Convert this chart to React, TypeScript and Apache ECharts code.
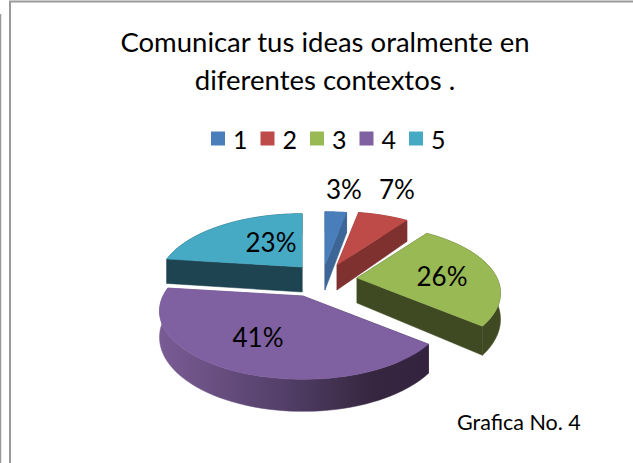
import React, { useEffect, useRef } from "react";
import * as echarts from "echarts";

const categories = ["1", "2", "3", "4", "5"];
const percents = [3, 7, 26, 41, 23];
const labelTexts = ["3%", "7%", "26%", "41%", "23%"];
const titleText = "Comunicar tus ideas oralmente en\ndiferentes contextos .";
const captionText = "Grafica No. 4";

const topColors = ["#4A7EBB", "#BE4B48", "#98B954", "#7F60A0", "#46AAC5"];
const sideColors = ["#3D6596", "#7F3130", "#404A22", "#33233F", "#1F4451"];
// per-slice exploded apex, label position, paint order
const apexes = [[325, 265], [337, 265], [357, 278], [303, 296], [302, 267]];
const labelPos = [[344, 189], [397, 189], [442, 276], [258, 337], [271, 242]];
const zOrder = [1, 2, 3, 5, 4];

const FONT = "Lato, 'Open Sans', sans-serif";
const R0 = 140;
const RY0 = 65;
const P = 0.22;
const DEPTH = 25;

const total = percents.reduce((a, b) => a + b, 0);

function project(apex: number[], deg: number, r: number) {
  const t = (deg * Math.PI) / 180;
  const u = Math.sin(t) * r;
  const v = -Math.cos(t) * r;
  const s = 1 / (1 - P * v);
  return { x: apex[0] + R0 * u * s, y: apex[1] + RY0 * v * s, s };
}

function renderSlice(i: number) {
  return (_params: any, api: any) => {
    const value = api.value(0);
    const startPct = percents.slice(0, i).reduce((a, b) => a + b, 0);
    const a0 = (startPct / total) * 360;
    const a1 = ((startPct + value) / total) * 360;
    const apex = apexes[i];
    const steps = 60;
    const rim: { x: number; y: number; s: number }[] = [];
    for (let k = 0; k <= steps; k++) rim.push(project(apex, a0 + ((a1 - a0) * k) / steps, 1));
    const centre = { x: apex[0], y: apex[1], s: 1 };
    const low = (p: { x: number; y: number; s: number }) => [p.x, p.y + DEPTH * p.s];
    const hi = (p: { x: number; y: number; s: number }) => [p.x, p.y];
    const sideFill: any =
      i === 3
        ? new echarts.graphic.LinearGradient(
            158, 0, 428, 0,
            [
              { offset: 0, color: "#7A5C95" },
              { offset: 0.45, color: "#54406A" },
              { offset: 0.8, color: "#36263F" },
              { offset: 1, color: "#33233F" },
            ],
            true
          )
        : sideColors[i];
    const wallStyle = { fill: sideFill, stroke: sideFill, lineWidth: 0.5 };
    const first = rim[0];
    const last = rim[rim.length - 1];
    const children: any[] = [
      { type: "polygon", shape: { points: [hi(centre), hi(first), low(first), low(centre)] }, style: wallStyle },
      { type: "polygon", shape: { points: [hi(centre), hi(last), low(last), low(centre)] }, style: wallStyle },
      { type: "polygon", shape: { points: [...rim.map(hi), ...rim.slice().reverse().map(low)] }, style: wallStyle },
      { type: "polygon", shape: { points: [hi(centre), ...rim.map(hi)] }, style: { fill: topColors[i], stroke: topColors[i], lineWidth: 0.5 } },
      {
        type: "text",
        z2: 100,
        style: {
          x: labelPos[i][0],
          y: labelPos[i][1],
          text: labelTexts[i],
          fill: "#000",
          font: `26px ${FONT}`,
          align: "center",
          verticalAlign: "middle",
        },
      },
    ];
    return { type: "group", children };
  };
}

export default function App() {
  const ref = useRef<HTMLDivElement>(null);
  useEffect(() => {
    const chart = echarts.init(ref.current!, null, { renderer: "svg" });
    const line = (x1: number, y1: number, x2: number, y2: number, w: number) => ({
      type: "line",
      shape: { x1, y1, x2, y2 },
      style: { stroke: "#9A9A9A", lineWidth: w },
      silent: true,
    });
    chart.setOption({
      animation: false,
      backgroundColor: "#fff",
      title: {
        text: titleText,
        left: 320,
        top: 17,
        textAlign: "center",
        textStyle: { fontFamily: FONT, fontSize: 27.5, fontWeight: "normal", color: "#000", lineHeight: 38 },
      },
      legend: {
        data: categories,
        left: 206,
        top: 121,
        icon: "rect",
        itemWidth: 14,
        itemHeight: 14,
        itemGap: 13,
        textStyle: { fontFamily: FONT, fontSize: 25, color: "#000", padding: [0, 0, 0, 3] },
        selectedMode: false,
      },
      graphic: [
        line(0.5, 14, 0.5, 463, 1.5),
        line(10, 1, 10, 463, 2),
        line(9, 1.5, 633, 1.5, 2),
        {
          type: "text",
          style: { x: 457, y: 422, text: captionText, fill: "#000", font: `21.5px ${FONT}`, verticalAlign: "middle" },
        },
      ],
      series: categories.map((name, i) => ({
        type: "custom",
        name,
        coordinateSystem: "none",
        z: zOrder[i],
        itemStyle: { color: topColors[i] },
        data: [[percents[i]]],
        renderItem: renderSlice(i),
      })),
    });
    return () => chart.dispose();
  }, []);
  return <div ref={ref} style={{ position: "absolute", left: 0, top: 0, width: 633, height: 463 }} />;
}
